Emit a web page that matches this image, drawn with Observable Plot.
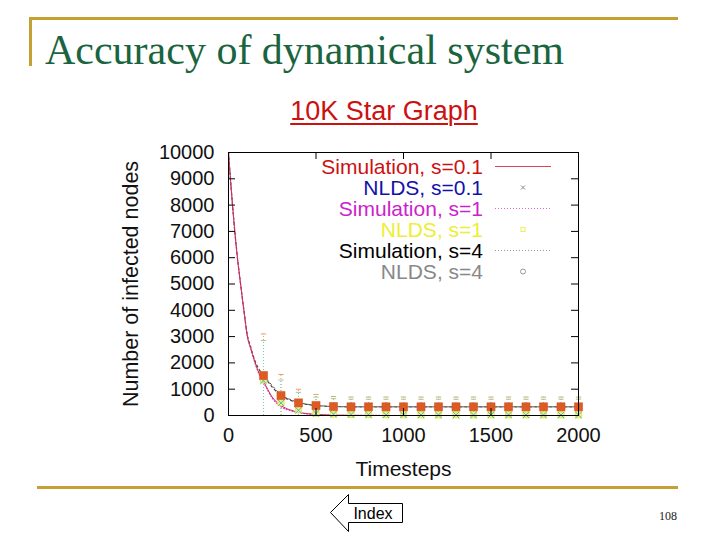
<!DOCTYPE html>
<html><head><meta charset="utf-8">
<script src="https://cdn.jsdelivr.net/npm/d3@7"></script>
<script src="https://cdn.jsdelivr.net/npm/@observablehq/plot@0.6"></script>
<style>
body{margin:0;background:#fff;}
#page{position:relative;width:720px;height:540px;overflow:hidden;font-family:"Liberation Sans",Arial,sans-serif;background:#fff;}
.gold{position:absolute;background:#c4a035;}
#title{position:absolute;left:45px;top:26px;font-family:"Liberation Serif","Times New Roman",serif;font-size:42px;color:#1a6440;white-space:nowrap;line-height:48px;}
#sub{position:absolute;left:0;width:768px;top:95px;text-align:center;font-size:27px;color:#cc1111;text-decoration:underline;text-decoration-thickness:2px;text-underline-offset:3px;line-height:32px;}
#chart{position:absolute;left:0;top:130px;}
.lrow{position:absolute;right:0;height:21px;line-height:21px;font-size:21px;white-space:nowrap;text-align:right;}
#pg{position:absolute;left:659px;top:509px;font-family:"Liberation Serif",serif;font-size:12px;color:#222;}
#idx{position:absolute;left:328px;top:492px;}
</style></head><body>
<div id="page">
  <div class="gold" style="left:30px;top:17px;width:648px;height:3px;"></div>
  <div class="gold" style="left:29px;top:17px;width:3px;height:49px;"></div>
  <div id="title">Accuracy of dynamical system</div>
  <div id="sub">10K Star Graph</div>
  <div id="chart"></div>
  <div id="legendBox"></div>
  <div class="gold" style="left:37px;top:486px;width:641px;height:3px;"></div>
  <svg id="idx" width="80" height="44">
    <path d="M2.5,20.5 L20.5,2.5 L20.5,11.5 L74.5,11.5 L74.5,30.5 L20.5,30.5 L20.5,39.5 Z" fill="#fff" stroke="#000" stroke-width="1"/>
    <text x="45" y="27" text-anchor="middle" font-family="Liberation Sans,Arial,sans-serif" font-size="16" fill="#000">Index</text>
  </svg>
  <div id="pg">108</div>
</div>
<script>
// Simulation curves (timestep, infected nodes)
const simT   = [0, 11, 23, 36, 51, 69, 88, 108, 125, 150, 175, 200, 250, 300, 350, 400, 450, 500, 600, 700, 800, 1000, 1200, 1400, 1600, 1800, 2000];
const simS01 = [10000, 9000, 8000, 7000, 6000, 5000, 4000, 3000, 2600, 2050, 1600, 1300, 700, 380, 220, 125, 70, 40, 15, 5, 2, 0, 0, 0, 0, 0, 0];
const simS1  = [10000, 9000, 8000, 7000, 6000, 5000, 4000, 3000, 2580, 2020, 1570, 1260, 660, 330, 190, 110, 60, 35, 12, 4, 2, 0, 0, 0, 0, 0, 0];
const simS4  = [10000, 9000, 8000, 7000, 6000, 5000, 4000, 3050, 2650, 2100, 1750, 1520, 1080, 760, 590, 480, 420, 380, 340, 330, 330, 330, 330, 330, 330, 330, 330];
// NLDS points and error bars
const markT   = [200, 300, 400, 500, 600, 700, 800, 900, 1000, 1100, 1200, 1300, 1400, 1500, 1600, 1700, 1800, 1900, 2000];
const nldsS01 = [1320, 480, 200, 80, 50, 35, 30, 25, 25, 20, 20, 20, 20, 20, 20, 20, 20, 20, 20];
const nldsS1  = [1360, 500, 220, 90, 55, 40, 35, 30, 30, 25, 25, 25, 25, 25, 25, 25, 25, 25, 25];
const nldsS4  = [1520, 760, 480, 380, 340, 330, 330, 330, 330, 330, 330, 330, 330, 330, 330, 330, 330, 330, 330];
const errTopS4  = [3100, 1560, 1000, 800, 720, 700, 700, 700, 700, 700, 700, 700, 700, 700, 700, 700, 700, 700, 700];
const errTopS1  = [2850, 1350, 880, 700, 640, 620, 620, 620, 620, 620, 620, 620, 620, 620, 620, 620, 620, 620, 620];
// Axis ticks
const xTicks = [0, 500, 1000, 1500, 2000];
const yTicks = [0, 1000, 2000, 3000, 4000, 5000, 6000, 7000, 8000, 9000, 10000];
// Legend
const legendLabels = ["Simulation, s=0.1", "NLDS, s=0.1", "Simulation, s=1", "NLDS, s=1", "Simulation, s=4", "NLDS, s=4"];
const legendColors = ["#cc1111", "#1111aa", "#cc22cc", "#eeee33", "#000000", "#888888"];

const sim = simT.map((t, i) => ({t, s01: simS01[i], s1: simS1[i], s4: simS4[i]}));
const pts = markT.map((t, i) => ({t, a: nldsS01[i], b: nldsS1[i], c: nldsS4[i], e4: errTopS4[i], e1: errTopS1[i]}));

const capSymbol = {draw(ctx, size){ const r = Math.sqrt(size) / 2; ctx.moveTo(-r, 0); ctx.lineTo(r, 0); }};
const fmt = d3.format("d");
const W = 720, H = 370, ML = 228, MR = 142, MT = 22, MB = 85;
const xMin = xTicks[0], xMax = xTicks[xTicks.length - 1];
const yMin = yTicks[0], yMax = yTicks[yTicks.length - 1];
// inward tick length of 7px, expressed in each scale's units
const tickPx = 7;
const tx = tickPx / (W - ML - MR) * (xMax - xMin);
const ty = tickPx / (H - MT - MB) * (yMax - yMin);

const chart = Plot.plot({
  width: W, height: H,
  marginTop: MT, marginBottom: MB, marginLeft: ML, marginRight: MR,
  style: {fontFamily: "Liberation Sans, Arial, sans-serif", fontSize: "20px", color: "#111", background: "transparent"},
  x: {domain: [xMin, xMax]},
  y: {domain: [yMin, yMax]},
  marks: [
    // error bars
    Plot.ruleX(pts, {x: "t", y1: 0, y2: "e4", stroke: "#e8a070", strokeDasharray: "1,2", strokeWidth: 1}),
    Plot.ruleX(pts, {x: "t", y1: 0, y2: "e1", stroke: "#77ccaa", strokeDasharray: "1,2", strokeWidth: 1}),
    Plot.dot(pts, {x: "t", y: "e4", symbol: capSymbol, r: 3, stroke: "#e8a070", strokeWidth: 1}),
    Plot.dot(pts, {x: "t", y: "e1", symbol: capSymbol, r: 3, stroke: "#99cc99", strokeWidth: 1}),
    // simulation curves
    Plot.line(sim, {x: "t", y: "s4", stroke: "#444", strokeDasharray: "2,3", strokeWidth: 1.2, curve: "monotone-x"}),
    Plot.line(sim, {x: "t", y: "s1", stroke: "#dd44dd", strokeDasharray: "1,2", strokeWidth: 1.2, curve: "monotone-x"}),
    Plot.line(sim, {x: "t", y: "s01", stroke: "#cc3344", strokeWidth: 1, curve: "monotone-x"}),
    Plot.line(pts, {x: "t", y: "c", stroke: "#555", strokeDasharray: "2,3", strokeWidth: 1}),
    // NLDS markers
    Plot.dot(pts, {x: "t", y: "b", symbol: "square", r: 3.5, stroke: "#e6e65a", fill: "#eef0a0", strokeWidth: 1}),
    Plot.dot(pts, {x: "t", y: "a", symbol: "times", r: 3, stroke: "#55bb99", strokeWidth: 1}),
    Plot.dot(pts, {x: "t", y: "c", symbol: "square", r: 4.6, fill: "#dd5a22", stroke: "#cc5020", strokeWidth: 0.5}),
    // frame, inward ticks (mirrored on all four sides) and axes
    Plot.frame({stroke: "#000", strokeWidth: 1}),
    Plot.ruleY(yTicks, {y: d => d, x1: () => xMin, x2: () => xMin + tx, stroke: "#000", strokeWidth: 1}),
    Plot.ruleY(yTicks, {y: d => d, x1: () => xMax - tx, x2: () => xMax, stroke: "#000", strokeWidth: 1}),
    Plot.ruleX(xTicks, {x: d => d, y1: () => yMin, y2: () => yMin + ty, stroke: "#000", strokeWidth: 1}),
    Plot.ruleX(xTicks, {x: d => d, y1: () => yMax - ty, y2: () => yMax, stroke: "#000", strokeWidth: 1}),
    Plot.axisY(yTicks, {anchor: "left", tickSize: 0, tickPadding: 14, fontSize: 20, tickFormat: fmt, label: "Number of infected nodes", labelAnchor: "center", labelOffset: 106, labelArrow: "none"}),
    Plot.axisX(xTicks, {anchor: "bottom", tickSize: 0, tickPadding: 12, fontSize: 20, tickFormat: fmt, label: "Timesteps", labelAnchor: "center", labelOffset: 60, labelArrow: "none"})
  ]
});
chart.querySelectorAll("text").forEach(t => {
  if (t.textContent === "Number of infected nodes") t.setAttribute("font-size", "21.5");
  if (t.textContent === "Timesteps") t.setAttribute("font-size", "21");
});
document.getElementById("chart").appendChild(chart);

// legend overlay
const lb = document.getElementById("legendBox");
const rowTop0 = 156, rowStep = 21;
legendLabels.forEach((lab, i) => {
  const d = document.createElement("div");
  d.className = "lrow";
  d.style.top = (rowTop0 + i * rowStep) + "px";
  d.style.left = "0px";
  d.style.width = "483px";
  d.style.color = legendColors[i];
  d.textContent = lab;
  lb.appendChild(d);
});
const samp = document.createElementNS("http://www.w3.org/2000/svg", "svg");
samp.setAttribute("width", "70"); samp.setAttribute("height", "130");
samp.style.position = "absolute"; samp.style.left = "490px"; samp.style.top = (rowTop0) + "px";
const cy = i => i * rowStep + 10.5;
samp.innerHTML =
  `<line x1="5" x2="61" y1="${cy(0)}" y2="${cy(0)}" stroke="#dd4455" stroke-width="1"/>` +
  `<path d="M31,${cy(1)-2} l4,4 M35,${cy(1)-2} l-4,4" stroke="#888" stroke-width="1"/>` +
  `<line x1="5" x2="61" y1="${cy(2)}" y2="${cy(2)}" stroke="#dd66dd" stroke-width="1" stroke-dasharray="1,2"/>` +
  `<rect x="31" y="${cy(3)-2}" width="4" height="4" fill="none" stroke="#eeee55" stroke-width="1"/>` +
  `<line x1="5" x2="61" y1="${cy(4)}" y2="${cy(4)}" stroke="#999" stroke-width="1" stroke-dasharray="1,2"/>` +
  `<circle cx="33" cy="${cy(5)}" r="2.5" fill="none" stroke="#999" stroke-width="1"/>`;
lb.appendChild(samp);
</script>
</body></html>
